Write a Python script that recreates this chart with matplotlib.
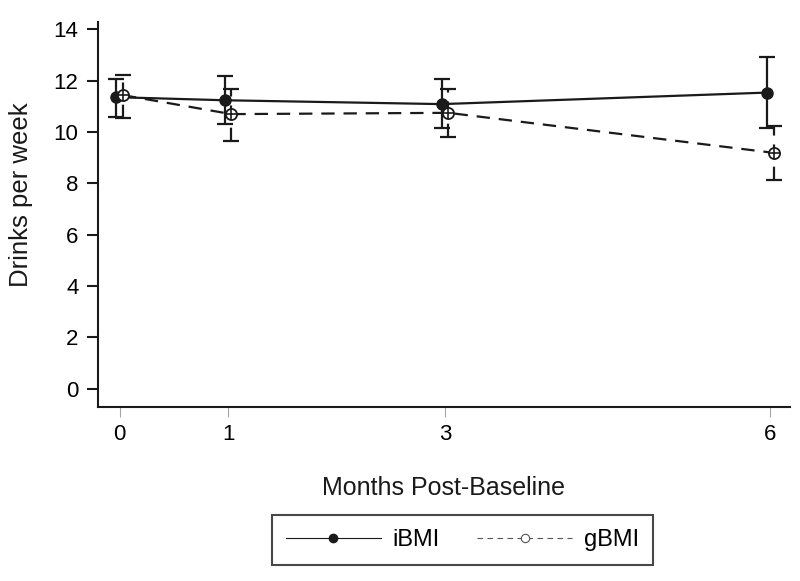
import matplotlib
matplotlib.use('Agg')
import matplotlib.pyplot as plt
from matplotlib.lines import Line2D
import numpy as np

plt.rcParams['font.family'] = ['Liberation Sans', 'DejaVu Sans']

months = np.array([0, 1, 3, 6])
tick_labels = ['0', '1', '3', '6']

# iBMI (filled markers, solid)
ibmi_mean = np.array([11.36, 11.24, 11.09, 11.54])
ibmi_low = np.array([10.59, 10.33, 10.14, 10.16])
ibmi_high = np.array([12.05, 12.18, 12.05, 12.92])

# gBMI (hollow markers, dashed)
gbmi_mean = np.array([11.44, 10.70, 10.75, 9.19])
gbmi_low = np.array([10.53, 9.66, 9.79, 8.13])
gbmi_high = np.array([12.22, 11.66, 11.66, 10.25])

shift = 0.03
ink = '#1a1a1a'

fig = plt.figure(figsize=(8, 5.81), dpi=100)
ax = fig.add_axes([0.1225, 0.2995, 0.865, 0.663])

# iBMI
xi = months - shift
ax.plot(xi, ibmi_mean, color=ink, lw=1.6, zorder=3)
ax.errorbar(xi, ibmi_mean, yerr=[ibmi_mean - ibmi_low, ibmi_high - ibmi_mean],
            fmt='none', ecolor=ink, elinewidth=1.6, capsize=6, capthick=1.6, zorder=3)
ax.plot(xi, ibmi_mean, 'o', color=ink, ms=8, zorder=4)

# gBMI
xg = months + shift
ax.plot(xg, gbmi_mean, color=ink, lw=1.6, dashes=(6, 4), zorder=3)
eb2 = ax.errorbar(xg, gbmi_mean, yerr=[gbmi_mean - gbmi_low, gbmi_high - gbmi_mean],
                  fmt='none', ecolor=ink, elinewidth=1.6, capsize=6, capthick=1.6, zorder=3)
for col in eb2[2]:
    col.set_linestyle((0, (6, 4)))
ax.plot(xg, gbmi_mean, 'o', mfc='white', mec=ink, mew=1.3, ms=8, zorder=4)
ax.plot(xg, gbmi_mean, '+', color=ink, mew=1.2, ms=8, zorder=5)

ax.set_xlim(-0.2, 6.18)
ax.set_ylim(-0.72, 14.3)
ax.set_xticks(months)
ax.set_xticklabels(tick_labels)
ax.set_yticks(np.arange(0, 15, 2))

for s in ['top', 'right']:
    ax.spines[s].set_visible(False)
for s in ['left', 'bottom']:
    ax.spines[s].set_linewidth(1.5)
    ax.spines[s].set_color(ink)

ax.tick_params(axis='y', length=8, width=1.5, color=ink, labelsize=16, pad=6)
ax.tick_params(axis='x', length=7.5, width=0.8, color='0.65', labelsize=16, pad=5)

ax.set_xlabel('Months Post-Baseline', fontsize=18, labelpad=22, color=ink)
ax.set_ylabel('Drinks per week', fontsize=18.5, color=ink)
ax.yaxis.set_label_coords(-0.094, 0.55)

handles = [
    Line2D([], [], color=ink, lw=0.8, marker='o', ms=6, mfc=ink),
    Line2D([], [], color='#555555', lw=0.8, dashes=(5, 4), marker='o', ms=6, mfc='white', mec='#555555', mew=0.8),
]
leg = fig.legend(handles, ['iBMI', 'gBMI'], loc='center', bbox_to_anchor=(0.578, 0.0705),
                 ncol=2, fontsize=17, frameon=True, fancybox=False, shadow=False,
                 handlelength=4.0, handletextpad=0.5, columnspacing=1.6, borderpad=0.6,
                 numpoints=1)
leg.get_frame().set_edgecolor(ink)
leg.get_frame().set_linewidth(1.5)

fig.savefig('out.png', dpi=100)
